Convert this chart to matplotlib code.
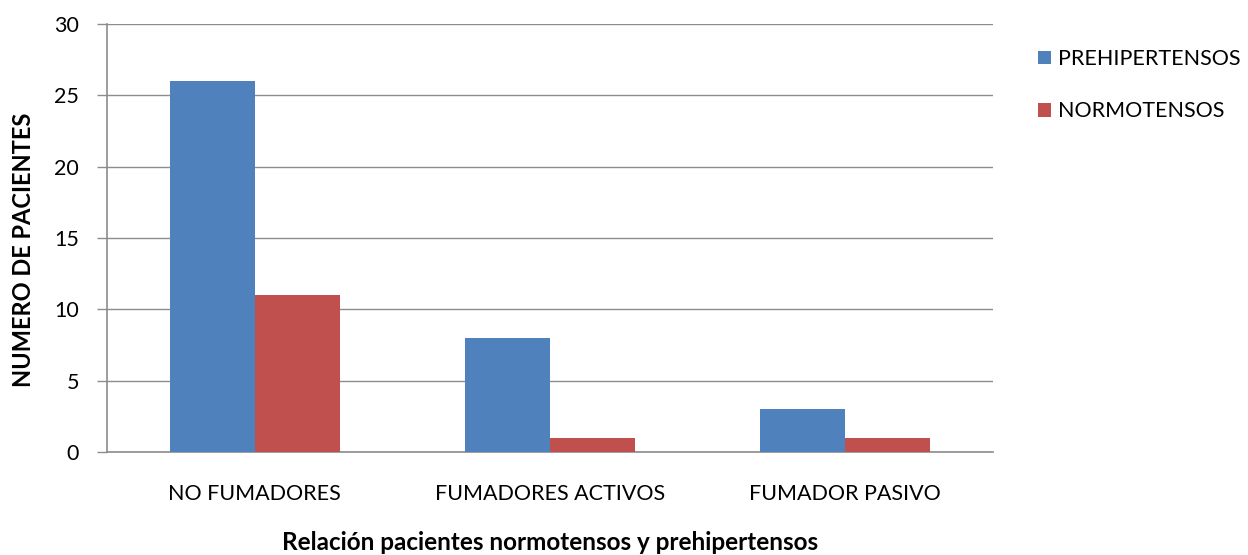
import matplotlib.pyplot as plt
import numpy as np

plt.rcParams['font.family'] = ['Lato', 'DejaVu Sans']

categorias = ['NO FUMADORES', 'FUMADORES ACTIVOS', 'FUMADOR PASIVO']
prehipertensos = [26, 8, 3]
normotensos = [11, 1, 1]

W, H = 1248, 555
fig = plt.figure(figsize=(W / 100, H / 100), dpi=100)
ax = fig.add_axes([107 / W, 1 - 452 / H, (993 - 107) / W, (452 - 24) / H])

x = np.arange(len(categorias))
ancho = 0.288
b1 = ax.bar(x - ancho / 2, prehipertensos, ancho, color='#4F81BD', label='PREHIPERTENSOS', zorder=3)
b2 = ax.bar(x + ancho / 2, normotensos, ancho, color='#C0504D', label='NORMOTENSOS', zorder=3)

ax.set_xlim(-0.5, 2.5)
ax.set_ylim(0, 30)
ax.set_yticks(range(0, 31, 5))
ax.yaxis.grid(True, color='#8c8c8c', linewidth=1, zorder=0)
ax.set_xticks(x)
ax.set_xticklabels(categorias, fontsize=15.5)
ax.tick_params(axis='x', length=0, pad=23)
ax.tick_params(axis='y', length=7, width=1, color='#8c8c8c', labelsize=15.5, pad=13)

for lado in ['top', 'right']:
    ax.spines[lado].set_visible(False)
for lado in ['left', 'bottom']:
    ax.spines[lado].set_color('#8c8c8c')
    ax.spines[lado].set_linewidth(1.2)

# títulos de ejes colocados a mano
fig.text(24 / W, 1 - 250 / H, 'NUMERO DE PACIENTES', rotation=90, fontsize=17,
         fontweight='bold', ha='center', va='center')
fig.text(550 / W, 1 - 543 / H, 'Relación pacientes normotensos y prehipertensos',
         fontsize=17.5, fontweight='bold', ha='center', va='center')

fig.legend(handles=[b1, b2], loc='upper left', bbox_to_anchor=(1038 / W, 1 - 49 / H),
           frameon=False, fontsize=15.5, handlelength=0.6, handleheight=0.6,
           handletextpad=0.35, labelspacing=1.5, borderpad=0, borderaxespad=0)

fig.savefig('out.png', dpi=100)
